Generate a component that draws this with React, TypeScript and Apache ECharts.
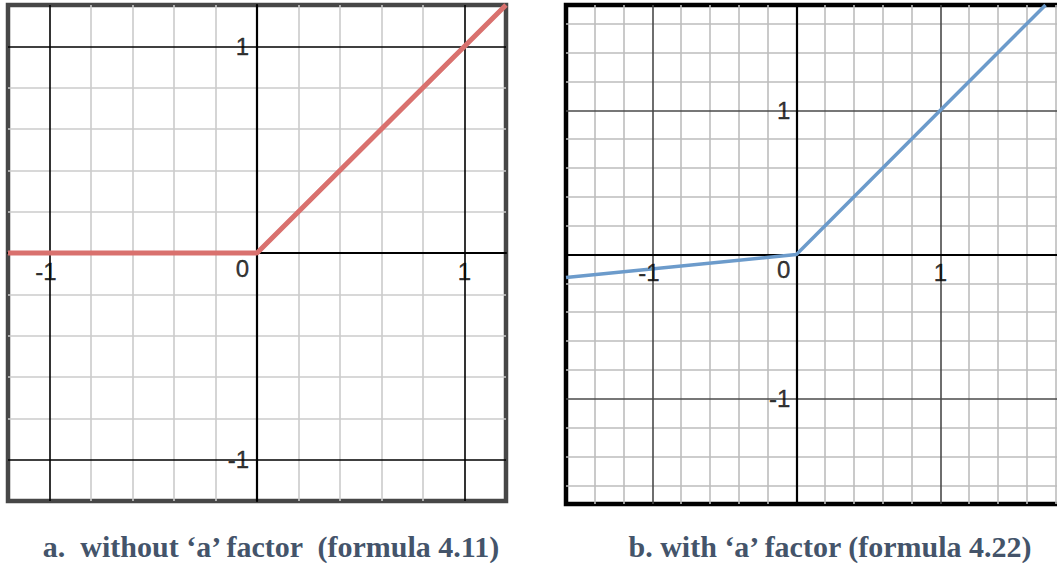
import React, { useEffect, useRef } from "react";
import * as echarts from "echarts";

// ---- Data ----
// (a) without 'a' factor: y = max(0, x)
const reluX = [-1.2, 0, 1.2];
const reluY = [0, 0, 1.2];
// (b) with 'a' factor (a = 0.1): y = x for x>=0, y = a*x otherwise
const leakyX = [-1.6, 0, 1.73];
const leakyY = [-0.16, 0, 1.73];

// Axis ranges
const leftXRange = [-1.2, 1.2];
const leftYRange = [-1.2, 1.2];
const rightXRange = [-1.6, 1.9];
const rightYRange = [-1.73, 1.73];

// Grid lines (step 0.2)
const leftMinorX = [-0.8, -0.6, -0.4, -0.2, 0.2, 0.4, 0.6, 0.8];
const leftMinorY = [-0.8, -0.6, -0.4, -0.2, 0.2, 0.4, 0.6, 0.8];
const leftMajor = [-1, 1];
const rightMinorX = [-1.4, -1.2, -0.8, -0.6, -0.4, -0.2, 0.2, 0.4, 0.6, 0.8, 1.2, 1.4, 1.6, 1.8];
const rightMinorY = [-1.6, -1.4, -1.2, -0.8, -0.6, -0.4, -0.2, 0.2, 0.4, 0.6, 0.8, 1.2, 1.4, 1.6];
const rightMajor = [-1, 1];

// Tick labels
const xTickLabels = [-1, 1];
const yTickLabels = [1, -1];
const originLabel = "0";

// Captions
const captionA = "a.  without \u2018a\u2019 factor  (formula 4.11)";
const captionB = "b. with \u2018a\u2019 factor (formula 4.22)";

const LABEL_FONT = "Liberation Sans";
const LABEL_STYLE = {
  show: true,
  color: "#000000",
  fontSize: 24,
  fontFamily: LABEL_FONT,
  textBorderColor: "#000000",
  textBorderWidth: 0.4,
};

function gridMarkLines(minorX: number[], minorY: number[], major: number[], minorColor: string, majorColor: string, majorWidth: number) {
  const data: any[] = [];
  minorX.forEach((v) => data.push({ xAxis: v, lineStyle: { color: minorColor, width: 1.6, type: "solid" } }));
  minorY.forEach((v) => data.push({ yAxis: v, lineStyle: { color: minorColor, width: 1.6, type: "solid" } }));
  major.forEach((v) => data.push({ xAxis: v, lineStyle: { color: majorColor, width: majorWidth, type: "solid" } }));
  major.forEach((v) => data.push({ yAxis: v, lineStyle: { color: majorColor, width: majorWidth, type: "solid" } }));
  return {
    silent: true,
    symbol: ["none", "none"],
    label: { show: false },
    emphasis: { disabled: true },
    animation: false,
    z: 1,
    data,
  };
}

function tickLabelSeries(gridIndex: number, yDist: number, xDist: number) {
  const data: any[] = [];
  xTickLabels.forEach((v) =>
    data.push({
      value: [v, 0],
      label: {
        ...LABEL_STYLE,
        position: "bottom",
        distance: yDist,
        offset: [v < 0 ? -3.5 : 0, 0],
        formatter: String(v),
      },
    })
  );
  yTickLabels.forEach((v) =>
    data.push({
      value: [0, v],
      label: { ...LABEL_STYLE, position: "left", distance: xDist, formatter: String(v) },
    })
  );
  data.push({
    value: [0, 0],
    label: { ...LABEL_STYLE, position: "left", distance: xDist, offset: [0, 15], formatter: originLabel },
  });
  return {
    type: "scatter",
    xAxisIndex: gridIndex,
    yAxisIndex: gridIndex,
    symbolSize: 0,
    itemStyle: { color: "rgba(0,0,0,0)" },
    silent: true,
    z: 4,
    label: LABEL_STYLE,
    data,
  };
}

function axisPair(gridIndex: number, xr: number[], yr: number[]) {
  const common = {
    type: "value" as const,
    gridIndex,
    axisTick: { show: false },
    axisLabel: { show: false },
    splitLine: { show: false },
    z: 2,
    axisLine: { show: true, onZero: true, lineStyle: { color: "#000", width: 2.2 } },
  };
  return {
    x: { ...common, min: xr[0], max: xr[1] },
    y: { ...common, min: yr[0], max: yr[1] },
  };
}

export default function App() {
  const ref = useRef<HTMLDivElement>(null);

  useEffect(() => {
    if (!ref.current) return;
    const chart = echarts.init(ref.current, undefined, { renderer: "svg" });
    const a0 = axisPair(0, leftXRange, leftYRange);
    const a1 = axisPair(1, rightXRange, rightYRange);

    chart.setOption({
      animation: false,
      backgroundColor: "#ffffff",
      grid: [
        { left: 8, top: 5, width: 498, height: 496, show: true, borderColor: "#474747", borderWidth: 4.5, backgroundColor: "transparent", outerBoundsMode: "none", containLabel: false },
        { left: 566, top: 5, width: 504, height: 499, show: true, borderColor: "#000000", borderWidth: 4.5, backgroundColor: "transparent", outerBoundsMode: "none", containLabel: false },
      ],
      xAxis: [a0.x, a1.x],
      yAxis: [a0.y, a1.y],
      series: [
        {
          type: "line",
          xAxisIndex: 0,
          yAxisIndex: 0,
          data: reluX.map((x, i) => [x, reluY[i]]),
          showSymbol: false,
          symbol: "none",
          z: 3,
          lineStyle: { color: "#d9716e", width: 5 },
          clip: true,
          markLine: gridMarkLines(leftMinorX, leftMinorY, leftMajor, "#cbcbcb", "#000000", 1.6),
        },
        {
          type: "line",
          xAxisIndex: 1,
          yAxisIndex: 1,
          data: leakyX.map((x, i) => [x, leakyY[i]]),
          showSymbol: false,
          symbol: "none",
          z: 3,
          lineStyle: { color: "#6c9bcb", width: 3.5 },
          clip: true,
          markLine: gridMarkLines(rightMinorX, rightMinorY, rightMajor, "#bdbdbd", "#4a4a4a", 1.6),
        },
        tickLabelSeries(0, 6, 8),
        tickLabelSeries(1, 6, 6),
      ],
      graphic: [
        {
          type: "text",
          x: 271,
          y: 546,
          style: {
            text: captionA,
            fill: "#44546a",
            font: "bold 30px 'Liberation Serif', 'Times New Roman', serif",
            textAlign: "center",
            textVerticalAlign: "middle",
          },
        },
        {
          type: "text",
          x: 830,
          y: 546,
          style: {
            text: captionB,
            fill: "#44546a",
            font: "bold 30px 'Liberation Serif', 'Times New Roman', serif",
            textAlign: "center",
            textVerticalAlign: "middle",
          },
        },
      ],
    });
    return () => chart.dispose();
  }, []);

  return (
    <div style={{ position: "absolute", left: 0, top: 0, width: 1057, height: 563, overflow: "hidden", background: "#fff" }}>
      <div ref={ref} style={{ width: 1057, height: 563 }} />
    </div>
  );
}
